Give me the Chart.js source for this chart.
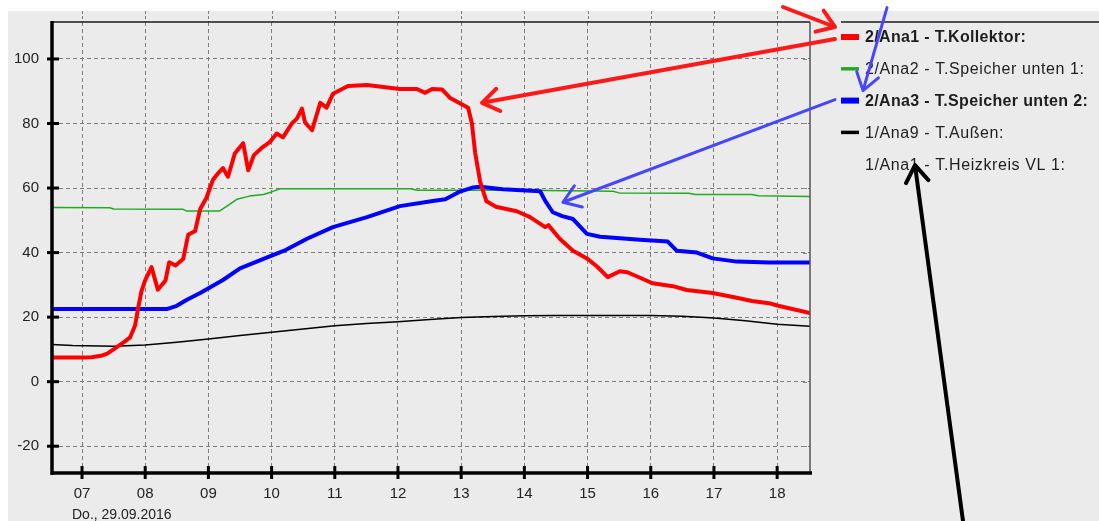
<!DOCTYPE html>
<html>
<head>
<meta charset="utf-8">
<script src="https://cdn.jsdelivr.net/npm/chart.js@4.4.1/dist/chart.umd.min.js"></script>
<style>
  html, body { margin: 0; padding: 0; background: #fff; }
  #wrap { position: relative; width: 1099px; height: 521px; }
</style>
</head>
<body>
<div id="wrap"><canvas id="chart"></canvas></div>
<script>
const hourTicks = [7, 8, 9, 10, 11, 12, 13, 14, 15, 16, 17, 18];
const hourLabels = ['07', '08', '09', '10', '11', '12', '13', '14', '15', '16', '17', '18'];
const tempTicks = [-20, 0, 20, 40, 60, 80, 100];
const dateLabel = 'Do., 29.09.2016';

const seriesLabels = [
    '2/Ana1 - T.Kollektor:',
    '2/Ana2 - T.Speicher unten 1:',
    '2/Ana3 - T.Speicher unten 2:',
    '1/Ana9 - T.Außen:',
    '1/Ana1 - T.Heizkreis VL 1:'
];

// Kollektor (red)
const kollektorTime = [6.525, 7.0, 7.15, 7.3, 7.4, 7.55, 7.68, 7.76, 7.84, 7.89, 7.94, 8.0, 8.1, 8.2, 8.32, 8.38,
    8.48, 8.6, 8.68, 8.79, 8.87, 8.97, 9.07, 9.15, 9.23, 9.31, 9.42, 9.55, 9.63, 9.72, 9.86, 9.97, 10.08,
    10.18, 10.32, 10.4, 10.48, 10.53, 10.64, 10.77, 10.87, 10.97, 11.21, 11.51, 11.77, 12.03, 12.3, 12.43,
    12.54, 12.7, 12.82, 13.11, 13.17, 13.22, 13.3, 13.4, 13.55, 13.88, 14.09, 14.33, 14.38, 14.56, 14.77,
    14.99, 15.15, 15.32, 15.51, 15.63, 16.03, 16.35, 16.57, 16.98, 17.36, 17.6, 17.9, 18.0, 18.52];
const kollektorTemp = [7.5, 7.5, 7.6, 8.0, 8.7, 10.7, 12.5, 13.7, 17.4, 23.0, 28.0, 31.5, 35.5, 28.5, 31.3, 37.0,
    36.0, 38.0, 45.5, 46.7, 53.5, 57.0, 62.5, 64.5, 66.2, 63.5, 70.8, 73.9, 65.5, 70.2, 72.7, 74.2, 76.9,
    75.7, 80.0, 81.5, 84.6, 80.3, 77.9, 86.4, 84.9, 89.2, 91.6, 91.9, 91.3, 90.7, 90.7, 89.5,
    90.7, 90.5, 88.0, 84.9, 80.0, 71.1, 62.0, 55.9, 54.2, 52.8, 51.0, 47.9, 48.5, 44.3, 40.6,
    38.2, 35.7, 32.4, 34.2, 33.9, 30.5, 29.6, 28.4, 27.5, 26.0, 25.0, 24.2, 23.6, 21.3];

// Speicher unten 1 (green)
const speicher1Time = [6.525, 7.44, 7.5, 8.6, 8.65, 9.18, 9.3, 9.45, 9.65, 9.87, 10.0, 10.13, 12.2, 12.3, 14.0,
    15.4, 15.5, 16.6, 16.7, 17.6, 17.7, 18.52];
const speicher1Temp = [54.0, 53.9, 53.5, 53.4, 52.9, 52.9, 54.5, 56.5, 57.5, 58.0, 58.8, 59.8, 59.8, 59.3, 59.3,
    59.0, 58.5, 58.4, 58.0, 58.0, 57.6, 57.4];

// Speicher unten 2 (blue)
const speicher2Time = [6.525, 8.34, 8.5, 8.66, 8.87, 9.23, 9.5, 9.97, 10.2, 10.56, 10.97, 11.51, 12.03, 12.55,
    12.75, 12.98, 13.19, 13.3, 13.66, 14.25, 14.33, 14.45, 14.6, 14.77, 14.99, 15.2, 15.83, 16.27, 16.41,
    16.73, 16.98, 17.36, 17.88, 18.52];
const speicher2Temp = [22.5, 22.5, 23.5, 25.4, 27.5, 31.5, 35.1, 38.8, 40.6, 44.3, 47.9, 51.0, 54.4, 56.0,
    56.5, 58.9, 60.2, 60.4, 59.6, 59.0, 56.0, 52.5, 51.3, 50.4, 45.8, 44.9, 44.0, 43.4, 40.6,
    40.0, 38.2, 37.2, 36.9, 36.9];

// Aussen (black)
const aussenTime = [6.525, 6.85, 7.5, 8.0, 8.5, 9.0, 9.5, 10.0, 10.5, 11.0, 11.5, 12.0, 12.5, 13.0, 13.5, 14.0,
    14.5, 15.0, 15.5, 16.0, 16.5, 17.0, 17.5, 18.0, 18.52];
const aussenTemp = [11.5, 11.2, 11.0, 11.4, 12.2, 13.2, 14.3, 15.3, 16.3, 17.3, 18.0, 18.6, 19.3, 19.9, 20.2, 20.4,
    20.5, 20.5, 20.5, 20.5, 20.3, 19.7, 18.9, 17.8, 17.2];

const FONT = "'Liberation Sans', Arial, sans-serif";

function toPoints(xs, ys) {
    return xs.map((x, i) => ({ x: x, y: ys[i] }));
}

function line(ctx, x1, y1, x2, y2) {
    ctx.beginPath();
    ctx.moveTo(x1, y1);
    ctx.lineTo(x2, y2);
    ctx.stroke();
}

function arrow(ctx, x1, y1, x2, y2, color, width) {
    const ang = Math.atan2(y2 - y1, x2 - x1);
    const len = 20, spread = 0.6;
    ctx.strokeStyle = color;
    ctx.lineWidth = width;
    ctx.lineCap = 'round';
    ctx.lineJoin = 'round';
    ctx.beginPath();
    ctx.moveTo(x1, y1);
    ctx.lineTo(x2, y2);
    ctx.moveTo(x2 - len * Math.cos(ang - spread), y2 - len * Math.sin(ang - spread));
    ctx.lineTo(x2, y2);
    ctx.lineTo(x2 - len * Math.cos(ang + spread), y2 - len * Math.sin(ang + spread));
    ctx.stroke();
}

const framePlugin = {
    id: 'frame',
    beforeDraw(chart) {
        const ctx = chart.ctx;
        ctx.save();
        ctx.fillStyle = '#ffffff';
        ctx.fillRect(0, 0, chart.width, chart.height);
        ctx.fillStyle = '#ebebeb';
        ctx.fillRect(8, 11, chart.width - 8, chart.height - 11);
        ctx.restore();
    },
    afterDatasetsDraw(chart) {
        const { ctx, chartArea: a, scales } = chart;
        ctx.save();
        ctx.lineCap = 'butt';

        // grid stubs above the top border
        ctx.strokeStyle = '#7c7c7c';
        ctx.lineWidth = 1;
        ctx.setLineDash([3, 2]);
        hourTicks.forEach(h => {
            const px = Math.round(scales.x.getPixelForValue(h)) + 0.5;
            line(ctx, px, 11, px, a.top);
        });
        ctx.setLineDash([]);

        ctx.strokeStyle = '#1a1a1a';
        ctx.lineWidth = 1.5;
        line(ctx, a.left, a.top, a.right, a.top);
        ctx.strokeStyle = '#555';
        line(ctx, a.right, a.top, a.right, a.bottom);
        ctx.strokeStyle = '#888';
        ctx.lineWidth = 1;
        tempTicks.forEach(v => {
            const py = Math.round(scales.y.getPixelForValue(v)) + 0.5;
            line(ctx, a.right - 7, py, a.right - 3, py);
        });

        ctx.strokeStyle = '#000';
        ctx.lineWidth = 3.5;
        line(ctx, a.left, a.top - 1, a.left, a.bottom + 2);
        line(ctx, a.left, a.bottom, a.right + 2, a.bottom);
        ctx.lineWidth = 3;
        tempTicks.forEach(v => {
            const py = scales.y.getPixelForValue(v);
            line(ctx, a.left - 5, py, a.left + 7, py);
        });
        hourTicks.forEach(h => {
            const px = scales.x.getPixelForValue(h);
            line(ctx, px, a.bottom - 7, px, a.bottom + 6);
        });

        ctx.fillStyle = '#222';
        ctx.font = '14px ' + FONT;
        ctx.textBaseline = 'alphabetic';
        ctx.textAlign = 'left';
        ctx.fillText(dateLabel, a.left + 20, 519);
        ctx.restore();
    }
};

const legendPlugin = {
    id: 'legendPanel',
    afterDraw(chart) {
        const { ctx, chartArea: a } = chart;
        const x0 = a.right + 31;
        const rowY = i => a.top + 15 + i * 31.8;
        ctx.save();
        ctx.strokeStyle = '#1a1a1a';
        ctx.lineWidth = 1.5;
        line(ctx, x0, a.top, chart.width, a.top);

        chart.data.datasets.forEach((ds, i) => {
            const yy = rowY(i);
            if (ds.data.length) {
                ctx.strokeStyle = ds.borderColor;
                ctx.lineWidth = ds.borderWidth + 2;
                ctx.lineCap = 'butt';
                line(ctx, x0, yy, x0 + 18, yy);
            }
            const bold = ds.borderWidth > 2;
            ctx.font = (bold ? 'bold ' : '') + '16px ' + FONT;
            ctx.letterSpacing = bold ? '0.35px' : '0.6px';
            ctx.fillStyle = '#1e1e1e';
            ctx.textBaseline = 'middle';
            ctx.textAlign = 'left';
            ctx.fillText(ds.label, x0 + 24, yy + 1);
        });
        ctx.letterSpacing = '0px';

        // hand-drawn annotation arrows
        const { x, y } = chart.scales;
        const red1 = { x: x0 - 6, y: rowY(0) - 10 };
        arrow(ctx, red1.x - 52, red1.y - 20, red1.x, red1.y, '#ff1a1a', 4);
        arrow(ctx, x0 - 6, rowY(0) + 2, x.getPixelForValue(13.33), y.getPixelForValue(86.4), '#ff1a1a', 4);
        const blue3 = { x: x0 + 22, y: rowY(2) - 10 };
        arrow(ctx, blue3.x + 24, blue3.y - 83, blue3.x, blue3.y, '#4646ff', 3);
        arrow(ctx, x0 - 6, rowY(2) - 1, x.getPixelForValue(14.61), y.getPixelForValue(55.6), '#4646ff', 3);
        const black5 = { x: x0 + 74, y: rowY(4) + 1 };
        arrow(ctx, black5.x + 48, chart.height, black5.x, black5.y, '#000000', 4);
        ctx.restore();
    }
};

const gridStyle = { color: '#7c7c7c', lineWidth: 1, drawTicks: false, borderDash: [4, 3] };
const borderStyle = { display: false, dash: [4, 3] };
const tickFont = { family: FONT, size: 15 };

new Chart(document.getElementById('chart'), {
    type: 'line',
    data: {
        datasets: [
            { label: seriesLabels[0], data: toPoints(kollektorTime, kollektorTemp), borderColor: '#ff0000', borderWidth: 4, order: 0 },
            { label: seriesLabels[1], data: toPoints(speicher1Time, speicher1Temp), borderColor: '#22aa22', borderWidth: 1.5, order: 2 },
            { label: seriesLabels[2], data: toPoints(speicher2Time, speicher2Temp), borderColor: '#0000ff', borderWidth: 4, order: 1 },
            { label: seriesLabels[3], data: toPoints(aussenTime, aussenTemp), borderColor: '#000000', borderWidth: 1.5, order: 3 },
            { label: seriesLabels[4], data: [], borderColor: 'rgba(0,0,0,0)', borderWidth: 0, order: 4 }
        ]
    },
    options: {
        responsive: true,
        maintainAspectRatio: false,
        animation: false,
        layout: { padding: { top: 15, right: 289, left: 0, bottom: 0 } },
        elements: {
            point: { radius: 0 },
            line: { tension: 0, borderJoinStyle: 'round', borderCapStyle: 'round' }
        },
        plugins: {
            legend: { display: false },
            tooltip: { enabled: false }
        },
        scales: {
            x: {
                type: 'linear',
                min: 6.525,
                max: 18.52,
                afterBuildTicks: s => { s.ticks = hourTicks.map(v => ({ value: v })); },
                afterFit: s => { s.height = 48; },
                grid: gridStyle,
                border: borderStyle,
                ticks: {
                    padding: 12, maxRotation: 0, autoSkip: false, color: '#222', font: tickFont,
                    callback: (v, i) => hourLabels[i]
                }
            },
            y: {
                type: 'linear',
                min: -28.3,
                max: 111.45,
                afterBuildTicks: s => { s.ticks = tempTicks.map(v => ({ value: v })); },
                afterFit: s => { s.width = 52; },
                grid: gridStyle,
                border: borderStyle,
                ticks: { padding: 13, color: '#222', font: tickFont }
            }
        }
    },
    plugins: [framePlugin, legendPlugin]
});
</script>
</body>
</html>
